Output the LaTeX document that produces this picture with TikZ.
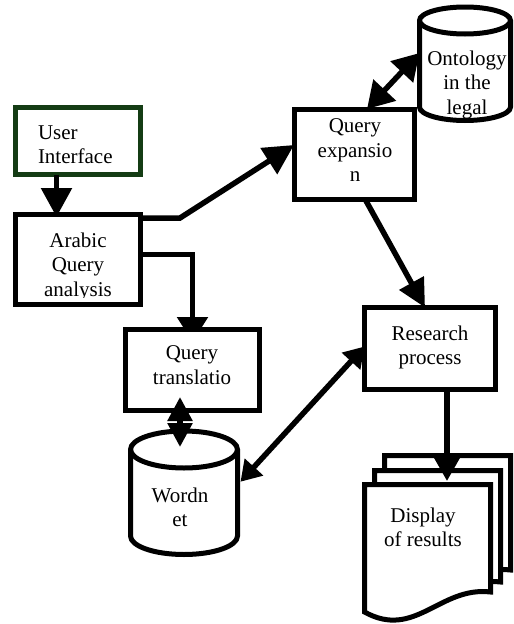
\documentclass[tikz,border=0pt]{standalone}
\usepackage{fontspec}
\setmainfont{Liberation Serif}
\usetikzlibrary{arrows.meta,calc,backgrounds}
\definecolor{uigreen}{HTML}{143C14}
\begin{document}
\begin{tikzpicture}[x=1pt, y=-1pt,
  box/.style={draw=black, line width=5pt, fill=white, inner sep=0pt, outer sep=0pt},
  hull/.style={draw=none, inner sep=0pt, outer sep=0pt},
  shell/.style={draw=black, line width=5pt, fill=white, line join=miter},
  lbl/.style={font=\fontsize{21}{24.5}\selectfont, align=center, inner sep=0pt, outer sep=0pt, anchor=north},
  conn/.style={draw=black, line width=5.5pt}]
\useasboundingbox (0,0) rectangle (514,624);

% ---- process boxes ----
\node[box, draw=uigreen, minimum width=125pt, minimum height=67pt] (ui) at (78,141) {};
\node[box, minimum width=125pt, minimum height=90pt] (ar) at (78,259.5) {};
\node[box, minimum width=120pt, minimum height=90pt] (qe) at (354,154) {};
\node[box, minimum width=134pt, minimum height=81pt] (qt) at (192.5,370) {};
\node[box, minimum width=131pt, minimum height=82pt] (rp) at (430,348.5) {};

% ---- ontology store (cylinder) ----
\node[hull, minimum width=91pt, minimum height=113.5pt] (ont) at (465,63.75) {};
\path[shell] (419.5,20.5) -- (419.5,107)
  arc[start angle=180, end angle=360, x radius=45.5pt, y radius=13.5pt]
  -- (510.5,20.5)
  arc[start angle=0, end angle=180, x radius=45.5pt, y radius=13.5pt] -- cycle;
\draw[line width=5pt] (419.5,20.5)
  arc[start angle=180, end angle=360, x radius=45.5pt, y radius=13.5pt];

% ---- WordNet store (cylinder) ----
\node[hull, minimum width=107pt, minimum height=123.5pt] (wn) at (184,492.75) {};
\path[shell] (130.5,449.5) -- (130.5,536)
  arc[start angle=180, end angle=360, x radius=53.5pt, y radius=18.5pt]
  -- (237.5,449.5)
  arc[start angle=0, end angle=180, x radius=53.5pt, y radius=18.5pt] -- cycle;
\draw[line width=5pt] (130.5,449.5)
  arc[start angle=180, end angle=360, x radius=53.5pt, y radius=18.5pt];

% ---- stacked result documents ----
\path[shell] (384.5,455.5) -- (510.5,455.5) -- (510.5,570)
  .. controls (460,564) and (435,618) .. (384.5,590) -- cycle;
\path[shell] (374.5,470.5) -- (500.5,470.5) -- (500.5,582)
  .. controls (450,576) and (425,630) .. (374.5,602) -- cycle;
\path[shell] (364.5,484.5) -- (490.5,484.5) -- (490.5,592)
  .. controls (440,586) and (415,640) .. (364.5,612) -- cycle;
\node[hull, minimum width=126pt, minimum height=128.5pt] (disp) at (427.5,548.75) {};

% ---- connectors ----
\begin{scope}[on background layer]
  \draw[conn, -{Triangle[length=25pt,width=30pt]}]
    ([yshift=-40pt]ar.north east) -| ([yshift=-12.5pt]qt.north);
\end{scope}
\draw[conn, -{Triangle[length=29pt,width=30pt]}]
  ([xshift=-21.5pt]ui.south) -- ([xshift=-21.5pt,yshift=-2.5pt]ar.north);
\draw[conn, -{Triangle[length=30pt,width=30pt]}]
  ([yshift=-3.5pt]ar.north east) -- ++(39.5,0) -- ([yshift=9pt]qe.west);
\draw[conn, {Triangle[length=26pt,width=30pt]}-{Triangle[length=26pt,width=30pt]}]
  ([xshift=13pt]qe.north) -- ([yshift=10.75pt]ont.west);
\draw[conn, -{Triangle[length=28pt,width=27pt]}]
  ([xshift=11pt]qe.south) -- ([xshift=-5pt]rp.north);
\draw[conn, {Triangle[length=20pt,width=24pt]}-{Triangle[length=20pt,width=24pt]}]
  ([yshift=2pt]rp.west) -- ([xshift=3pt,yshift=11pt]wn.east);
\draw[conn, {Triangle[length=24pt,width=24pt]}-{Triangle[length=24pt,width=24pt]}]
  ([xshift=-12.5pt,yshift=13.5pt]qt.south) -- ([xshift=-4pt,yshift=-16pt]wn.north);
\draw[conn, -{Triangle[length=28pt,width=30pt]}]
  ([xshift=17pt]rp.south) -- ([xshift=19.5pt,yshift=3.5pt]disp.north);

% ---- labels ----
\begin{scope}
  \clip (18,110) rectangle (138,163);
  \node[lbl, align=left, anchor=north west] (ui-t) at (38,125.7) {User\\Interface};
\end{scope}
\begin{scope}
  \clip (18,217) rectangle (138,297);
  \node[lbl] (ar-t) at (78,232.7) {Arabic\\Query\\analysis};
\end{scope}
\node[lbl] (qe-t) at (355,118.7) {Query\\expansio\\n};
\node[lbl] (ont-t) at (467,50.7) {Ontology\\in the\\legal};
\node[lbl] (qt-t) at (192,345.7) {Query\\translatio};
\node[lbl] (wn-t) at (180,487.7) {Wordn\\et};
\node[lbl] (rp-t) at (430,325.7) {Research\\process};
\node[lbl] (disp-t) at (423,507.7) {Display\\of results};
\end{tikzpicture}
\end{document}
